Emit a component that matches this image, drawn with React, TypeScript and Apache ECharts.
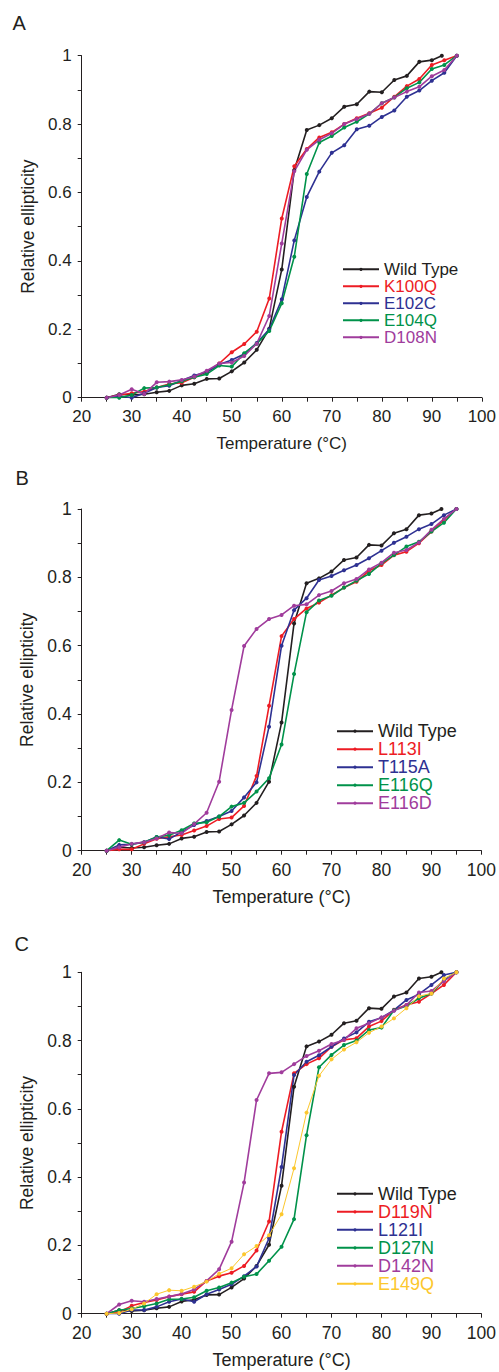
import React, { useEffect, useRef } from "react";
import * as echarts from "echarts";

// ---------- DATA ----------
const temps = [25, 27.5, 30, 32.5, 35, 37.5, 40, 42.5, 45, 47.5, 50, 52.5, 55, 57.5, 60, 62.5, 65, 67.5, 70, 72.5, 75, 77.5, 80, 82.5, 85, 87.5, 90, 92.5, 95];
const wtTemps = [25, 27.5, 30, 32.5, 35, 37.5, 40, 42.5, 45, 47.5, 50, 52.5, 55, 57.5, 60, 62.5, 65, 67.5, 70, 72.5, 75, 77.5, 80, 82.5, 85, 87.5, 90, 92];

const wildType = [0, 0.01, 0.008, 0.01, 0.016, 0.02, 0.036, 0.041, 0.055, 0.056, 0.077, 0.103, 0.14, 0.202, 0.375, 0.665, 0.783, 0.797, 0.817, 0.851, 0.858, 0.895, 0.893, 0.929, 0.941, 0.982, 0.987, 1.0];

// Panel A
const k100q = [0, 0.008, 0.013, 0.018, 0.03, 0.04, 0.044, 0.06, 0.075, 0.1, 0.133, 0.157, 0.193, 0.29, 0.524, 0.677, 0.727, 0.761, 0.776, 0.8, 0.817, 0.832, 0.848, 0.88, 0.911, 0.932, 0.973, 0.987, 1];
const e102c = [0, 0.005, 0.0, 0.013, 0.03, 0.035, 0.05, 0.065, 0.075, 0.097, 0.11, 0.128, 0.16, 0.2, 0.288, 0.46, 0.587, 0.661, 0.716, 0.738, 0.785, 0.795, 0.821, 0.84, 0.88, 0.898, 0.927, 0.95, 1];
const e104q = [0, 0.0, 0.008, 0.028, 0.03, 0.038, 0.048, 0.06, 0.069, 0.094, 0.091, 0.13, 0.158, 0.195, 0.276, 0.412, 0.654, 0.746, 0.765, 0.79, 0.807, 0.83, 0.861, 0.878, 0.905, 0.922, 0.961, 0.973, 1];
const d108n = [0, 0.008, 0.025, 0.011, 0.045, 0.047, 0.052, 0.062, 0.079, 0.1, 0.103, 0.122, 0.158, 0.239, 0.451, 0.662, 0.725, 0.754, 0.773, 0.8, 0.815, 0.83, 0.861, 0.878, 0.895, 0.909, 0.94, 0.958, 1];

// Panel B
const l113i = [0, 0.004, 0.004, 0.02, 0.035, 0.041, 0.046, 0.059, 0.072, 0.093, 0.097, 0.131, 0.219, 0.424, 0.628, 0.678, 0.709, 0.726, 0.748, 0.77, 0.787, 0.819, 0.836, 0.865, 0.875, 0.9, 0.934, 0.968, 1];
const t115a = [0, 0.017, 0.019, 0.025, 0.04, 0.034, 0.055, 0.075, 0.087, 0.1, 0.116, 0.156, 0.2, 0.363, 0.6, 0.704, 0.739, 0.792, 0.804, 0.821, 0.836, 0.856, 0.878, 0.901, 0.919, 0.941, 0.956, 0.982, 1];
const e116q = [0, 0.031, 0.019, 0.025, 0.04, 0.045, 0.06, 0.08, 0.083, 0.1, 0.129, 0.14, 0.173, 0.212, 0.311, 0.517, 0.698, 0.732, 0.746, 0.77, 0.79, 0.81, 0.841, 0.865, 0.89, 0.904, 0.934, 0.96, 1];
const e116d = [0, 0.01, 0.02, 0.025, 0.036, 0.053, 0.051, 0.078, 0.111, 0.202, 0.412, 0.599, 0.649, 0.678, 0.69, 0.717, 0.721, 0.748, 0.76, 0.783, 0.795, 0.823, 0.843, 0.872, 0.88, 0.902, 0.939, 0.971, 1];

// Panel C
const d119n = [0, 0.005, 0.023, 0.033, 0.04, 0.05, 0.057, 0.064, 0.096, 0.11, 0.12, 0.14, 0.185, 0.27, 0.533, 0.704, 0.731, 0.748, 0.782, 0.802, 0.807, 0.841, 0.857, 0.89, 0.904, 0.914, 0.938, 0.963, 1];
const l121i = [0, 0.0, 0.011, 0.011, 0.02, 0.035, 0.043, 0.035, 0.057, 0.071, 0.086, 0.11, 0.138, 0.221, 0.43, 0.699, 0.738, 0.757, 0.782, 0.806, 0.824, 0.855, 0.867, 0.889, 0.919, 0.936, 0.963, 0.992, 1];
const d127n = [0, 0.01, 0.015, 0.022, 0.03, 0.042, 0.043, 0.048, 0.067, 0.077, 0.091, 0.108, 0.116, 0.155, 0.196, 0.277, 0.523, 0.722, 0.758, 0.787, 0.8, 0.831, 0.838, 0.889, 0.901, 0.924, 0.938, 0.977, 1];
const d142n = [0, 0.027, 0.038, 0.035, 0.043, 0.05, 0.058, 0.071, 0.096, 0.13, 0.211, 0.384, 0.626, 0.704, 0.707, 0.731, 0.755, 0.77, 0.79, 0.802, 0.836, 0.851, 0.868, 0.887, 0.904, 0.941, 0.945, 0.974, 1];
const e149q = [0, 0.002, 0.013, 0.03, 0.057, 0.069, 0.067, 0.079, 0.094, 0.117, 0.133, 0.174, 0.198, 0.23, 0.291, 0.426, 0.589, 0.697, 0.745, 0.774, 0.795, 0.823, 0.841, 0.865, 0.895, 0.93, 0.938, 0.982, 1];

const panelLetters = ["A", "B", "C"];
const xTitle = "Temperature (°C)";
const yTitle = "Relative ellipticity";

// ---------- STYLE ----------
const FONT = "Liberation Sans, Arial, Helvetica, sans-serif";
const BLACK = "#231f20";
const RED = "#ed1c24";
const BLUE = "#2e3192";
const GREEN = "#00924a";
const PURPLE = "#a03c9c";
const YELLOW = "#fcc72d";

type S = { name: string; x: number[]; y: number[]; color: string; width?: number };

const panelSeries: S[][] = [
  [
    { name: "Wild Type", x: wtTemps, y: wildType, color: BLACK },
    { name: "K100Q", x: temps, y: k100q, color: RED },
    { name: "E102C", x: temps, y: e102c, color: BLUE },
    { name: "E104Q", x: temps, y: e104q, color: GREEN },
    { name: "D108N", x: temps, y: d108n, color: PURPLE },
  ],
  [
    { name: "Wild Type", x: wtTemps, y: wildType, color: BLACK },
    { name: "L113I", x: temps, y: l113i, color: RED },
    { name: "T115A", x: temps, y: t115a, color: BLUE },
    { name: "E116Q", x: temps, y: e116q, color: GREEN },
    { name: "E116D", x: temps, y: e116d, color: PURPLE },
  ],
  [
    { name: "Wild Type", x: wtTemps, y: wildType, color: BLACK },
    { name: "D119N", x: temps, y: d119n, color: RED },
    { name: "L121I", x: temps, y: l121i, color: BLUE },
    { name: "D127N", x: temps, y: d127n, color: GREEN },
    { name: "D142N", x: temps, y: d142n, color: PURPLE },
    { name: "E149Q", x: temps, y: e149q, color: YELLOW, width: 1 },
  ],
];

const layout = [
  { top: 55.7, height: 342, legendLeft: 342, legendTop: 260.8, letterX: 12.5, letterY: 24, labelSize: 17, legendSize: 17, titleSize: 17 },
  { top: 509, height: 341.7, legendLeft: 336, legendTop: 722.2, letterX: 15.5, letterY: 479, labelSize: 17.5, legendSize: 18, titleSize: 18 },
  { top: 972.3, height: 341.4, legendLeft: 336, legendTop: 1184.8, letterX: 14.5, letterY: 944.5, labelSize: 17.5, legendSize: 18, titleSize: 18 },
];

const GRID_LEFT = 81.7;
const GRID_WIDTH = 400.6;

function buildOption() {
  const grid: any[] = [];
  const xAxis: any[] = [];
  const yAxis: any[] = [];
  const legend: any[] = [];
  const series: any[] = [];
  const graphic: any[] = [];

  layout.forEach((L, p) => {
    grid.push({ left: GRID_LEFT, top: L.top, width: GRID_WIDTH, height: L.height, containLabel: false });
    const axisLineStyle = { color: BLACK, width: 1 };
    xAxis.push({
      type: "value",
      gridIndex: p,
      min: 20,
      max: 100,
      interval: 10,
      name: xTitle,
      nameLocation: "middle",
      nameGap: 37,
      nameTextStyle: { fontFamily: FONT, fontSize: L.titleSize, color: BLACK },
      axisLine: { show: true, onZero: false, lineStyle: axisLineStyle },
      axisTick: { show: true, inside: false, length: 4, lineStyle: axisLineStyle },
      minorTick: { show: true, splitNumber: 2, length: 4, lineStyle: axisLineStyle },
      axisLabel: { fontFamily: FONT, fontSize: L.labelSize, color: BLACK, margin: 10 },
      splitLine: { show: false },
      minorSplitLine: { show: false },
    });
    yAxis.push({
      type: "value",
      gridIndex: p,
      min: 0,
      max: 1,
      interval: 0.2,
      name: yTitle,
      nameLocation: "middle",
      nameGap: 44,
      nameRotate: 90,
      nameTextStyle: { fontFamily: FONT, fontSize: 17.5, color: BLACK },
      axisLine: { show: true, onZero: false, lineStyle: axisLineStyle },
      axisTick: { show: true, inside: false, length: 4, lineStyle: axisLineStyle },
      minorTick: { show: true, splitNumber: 2, length: 4, lineStyle: axisLineStyle },
      axisLabel: { fontFamily: FONT, fontSize: L.labelSize, color: BLACK, margin: 10 },
      splitLine: { show: false },
      minorSplitLine: { show: false },
    });

    const list = panelSeries[p];
    legend.push({
      orient: "vertical",
      left: L.legendLeft,
      top: L.legendTop,
      itemWidth: 36,
      itemHeight: 4,
      itemGap: 0,
      padding: 0,
      selectedMode: false,
      textStyle: { fontFamily: FONT, fontSize: L.legendSize, lineHeight: 17 },
      data: list.map((s) => ({ name: s.name, textStyle: { color: s.color } })),
    });

    list.forEach((s) => {
      series.push({
        type: "line",
        name: s.name,
        xAxisIndex: p,
        yAxisIndex: p,
        data: s.x.map((t, i) => [t, s.y[i]]),
        symbol: "circle",
        symbolSize: 4,
        showSymbol: true,
        lineStyle: { color: s.color, width: s.width ?? 1.6 },
        itemStyle: { color: s.color },
        emphasis: { disabled: true },
      });
    });

    graphic.push({
      type: "text",
      left: L.letterX,
      top: L.letterY - 11,
      style: { text: panelLetters[p], font: `20px ${FONT}`, fill: BLACK },
    });
  });

  return {
    animation: false,
    backgroundColor: "#ffffff",
    grid,
    xAxis,
    yAxis,
    legend,
    series,
    graphic,
  };
}

export default function App() {
  const ref = useRef<HTMLDivElement>(null);
  useEffect(() => {
    if (!ref.current) return;
    const chart = echarts.init(ref.current, undefined, { renderer: "svg" });
    chart.setOption(buildOption() as any);
    return () => chart.dispose();
  }, []);
  return (
    <div
      ref={ref}
      style={{ position: "absolute", left: 0, top: 0, width: 499, height: 1372, background: "#fff" }}
    />
  );
}
